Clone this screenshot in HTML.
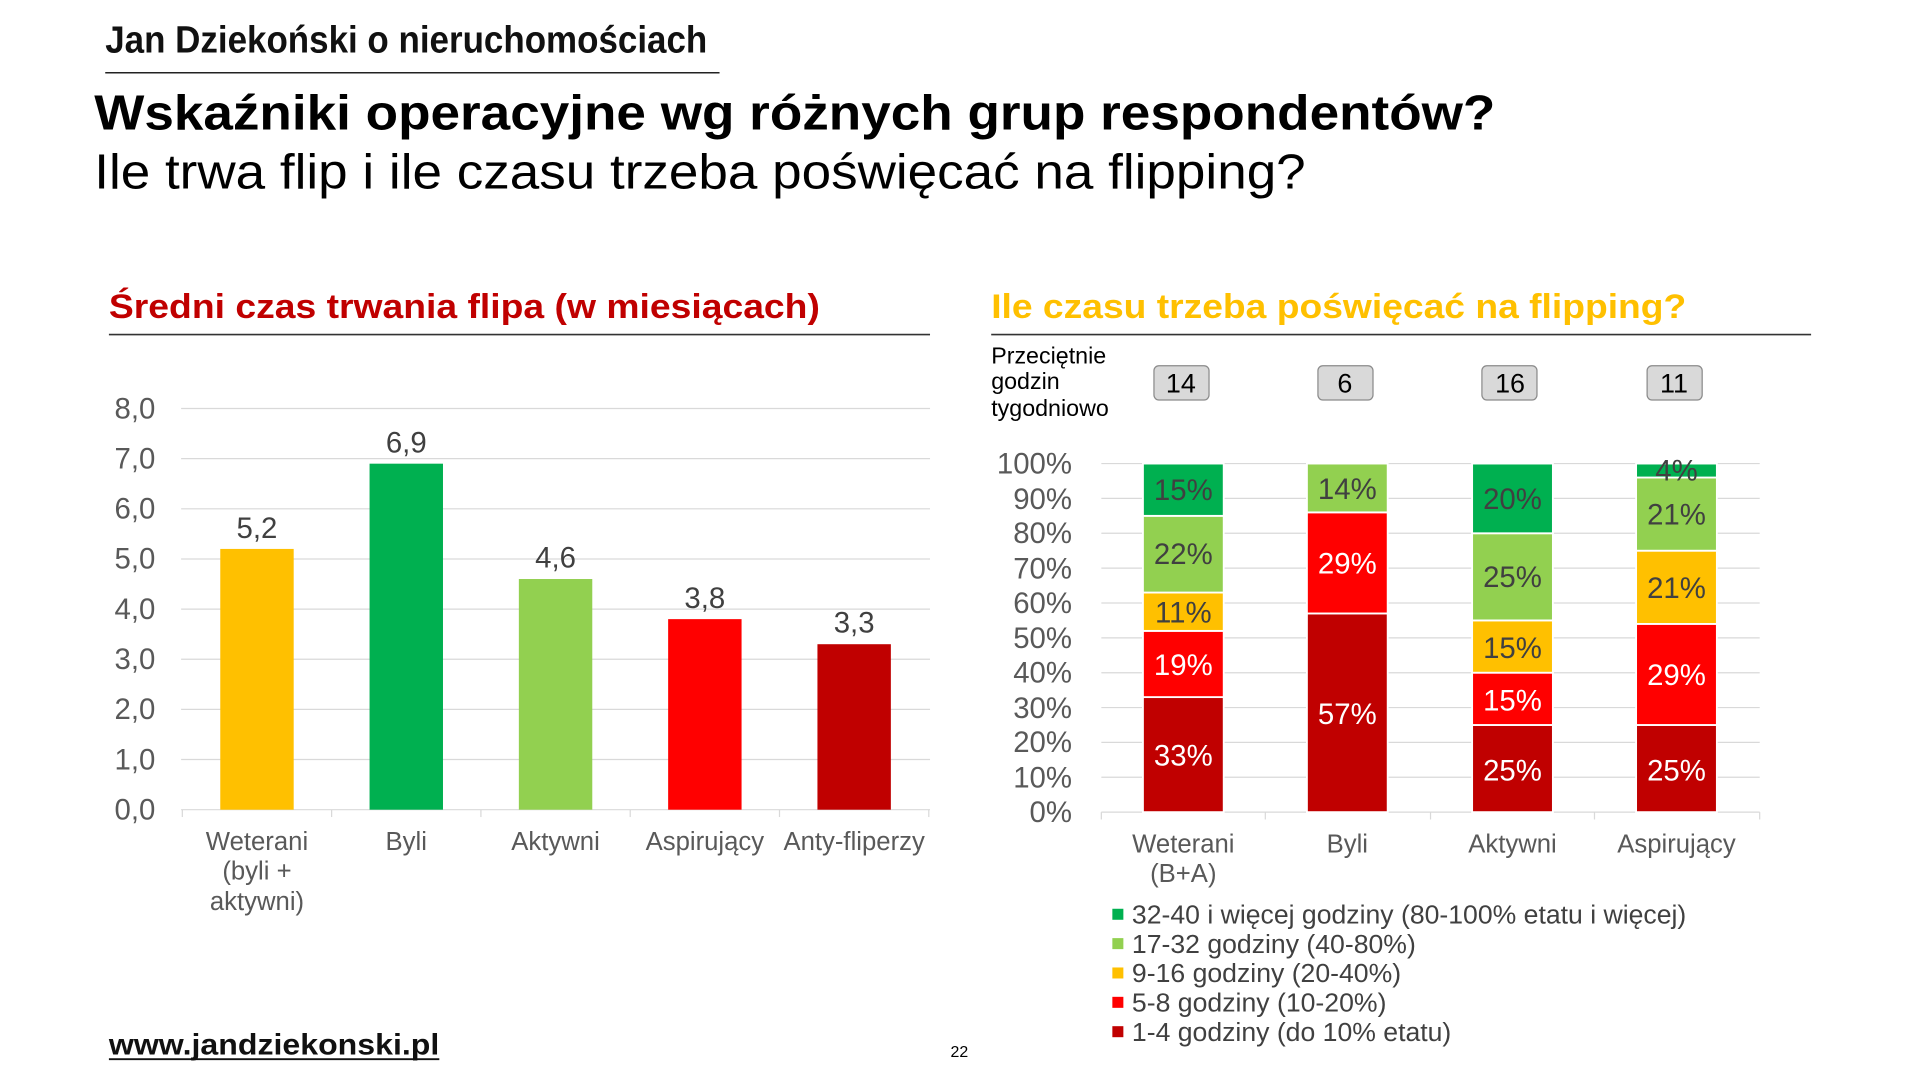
<!DOCTYPE html>
<html><head><meta charset="utf-8"><style>
html,body{margin:0;padding:0;background:#fff;}
svg{display:block;font-family:"Liberation Sans",Arial,sans-serif;}
</style></head><body>
<svg width="1920" height="1080" viewBox="0 0 1569 883" preserveAspectRatio="none" xmlns="http://www.w3.org/2000/svg">
<rect width="1569" height="883" fill="#fff"/>
<!-- header -->
<text x="86" y="43" font-size="31" font-weight="bold" fill="#111" textLength="492" lengthAdjust="spacingAndGlyphs">Jan Dziekoński o nieruchomościach</text>
<line x1="86" y1="59.5" x2="588" y2="59.5" stroke="#222" stroke-width="1.2"/>
<text x="77" y="106" font-size="40" font-weight="bold" fill="#000" textLength="1145" lengthAdjust="spacingAndGlyphs">Wskaźniki operacyjne wg różnych grup respondentów?</text>
<text x="77" y="154" font-size="40" fill="#000" textLength="990" lengthAdjust="spacingAndGlyphs">Ile trwa flip i ile czasu trzeba poświęcać na flipping?</text>

<!-- LEFT -->
<text x="89" y="260" font-size="28" font-weight="bold" fill="#C00000" textLength="581" lengthAdjust="spacingAndGlyphs">Średni czas trwania flipa (w miesiącach)</text>
<line x1="89" y1="273.5" x2="760" y2="273.5" stroke="#333" stroke-width="1.3"/>
<g stroke="#d9d9d9" stroke-width="1">
<line x1="148" y1="334" x2="760" y2="334"/><line x1="148" y1="375" x2="760" y2="375"/>
<line x1="148" y1="416" x2="760" y2="416"/><line x1="148" y1="457" x2="760" y2="457"/>
<line x1="148" y1="498" x2="760" y2="498"/><line x1="148" y1="539" x2="760" y2="539"/>
<line x1="148" y1="580" x2="760" y2="580"/><line x1="148" y1="621" x2="760" y2="621"/>
<line x1="148" y1="662" x2="760" y2="662"/>
<line x1="149" y1="662" x2="149" y2="668"/><line x1="271" y1="662" x2="271" y2="668"/>
<line x1="393" y1="662" x2="393" y2="668"/><line x1="515" y1="662" x2="515" y2="668"/>
<line x1="637" y1="662" x2="637" y2="668"/><line x1="759" y1="662" x2="759" y2="668"/>
</g>
<g font-size="24" fill="#595959" text-anchor="end">
<text x="127" y="342">8,0</text><text x="127" y="383">7,0</text><text x="127" y="424">6,0</text>
<text x="127" y="465">5,0</text><text x="127" y="506">4,0</text><text x="127" y="547">3,0</text>
<text x="127" y="588">2,0</text><text x="127" y="629">1,0</text><text x="127" y="670">0,0</text>
</g>
<rect x="180" y="448.8" width="60" height="213.2" fill="#FFC000"/>
<rect x="302" y="379.1" width="60" height="282.9" fill="#00B050"/>
<rect x="424" y="473.4" width="60" height="188.6" fill="#92D050"/>
<rect x="546" y="506.2" width="60" height="155.8" fill="#FF0000"/>
<rect x="668" y="526.7" width="60" height="135.3" fill="#C00000"/>
<g font-size="24" fill="#404040" text-anchor="middle">
<text x="210" y="440">5,2</text><text x="332" y="370">6,9</text><text x="454" y="464">4,6</text>
<text x="576" y="497">3,8</text><text x="698" y="517">3,3</text>
</g>
<g font-size="21" fill="#595959" text-anchor="middle">
<text x="210" y="695">Weterani</text><text x="210" y="719">(byli +</text><text x="210" y="744">aktywni)</text>
<text x="332" y="695">Byli</text><text x="454" y="695">Aktywni</text>
<text x="576" y="695">Aspirujący</text><text x="698" y="695">Anty-fliperzy</text>
</g>

<!-- RIGHT -->
<text x="810" y="260" font-size="28" font-weight="bold" fill="#FFC000" textLength="568" lengthAdjust="spacingAndGlyphs">Ile czasu trzeba poświęcać na flipping?</text>
<line x1="810" y1="273.5" x2="1480" y2="273.5" stroke="#333" stroke-width="1.3"/>
<g font-size="19" fill="#000">
<text x="810" y="297">Przeciętnie</text><text x="810" y="318">godzin</text><text x="810" y="340">tygodniowo</text>
</g>
<g fill="#d9d9d9" stroke="#8a8a8a" stroke-width="1">
<rect x="943" y="299" width="45" height="28" rx="4"/>
<rect x="1077" y="299" width="45" height="28" rx="4"/>
<rect x="1211" y="299" width="45" height="28" rx="4"/>
<rect x="1346" y="299" width="45" height="28" rx="4"/>
</g>
<g font-size="22" fill="#000" text-anchor="middle">
<text x="965" y="321">14</text><text x="1099" y="321">6</text><text x="1234" y="321">16</text><text x="1368" y="321">11</text>
</g>
<g stroke="#d9d9d9" stroke-width="1">
<line x1="900" y1="379" x2="1438" y2="379"/><line x1="900" y1="407.5" x2="1438" y2="407.5"/>
<line x1="900" y1="436" x2="1438" y2="436"/><line x1="900" y1="464.5" x2="1438" y2="464.5"/>
<line x1="900" y1="493" x2="1438" y2="493"/><line x1="900" y1="521.5" x2="1438" y2="521.5"/>
<line x1="900" y1="550" x2="1438" y2="550"/><line x1="900" y1="578.5" x2="1438" y2="578.5"/>
<line x1="900" y1="607" x2="1438" y2="607"/><line x1="900" y1="635.5" x2="1438" y2="635.5"/>
<line x1="900" y1="664" x2="1438" y2="664"/>
<line x1="900" y1="664" x2="900" y2="670"/><line x1="1034" y1="664" x2="1034" y2="670"/>
<line x1="1169" y1="664" x2="1169" y2="670"/><line x1="1303" y1="664" x2="1303" y2="670"/>
<line x1="1438" y1="664" x2="1438" y2="670"/>
</g>
<g font-size="24" fill="#595959" text-anchor="end">
<text x="876" y="387">100%</text><text x="876" y="416">90%</text><text x="876" y="444">80%</text>
<text x="876" y="473">70%</text><text x="876" y="501">60%</text><text x="876" y="530">50%</text>
<text x="876" y="558">40%</text><text x="876" y="587">30%</text><text x="876" y="615">20%</text>
<text x="876" y="644">10%</text><text x="876" y="672">0%</text>
</g>
<g stroke="#fff" stroke-width="1.5">
<rect x="934" y="569.95" width="66" height="94.05" fill="#C00000"/>
<rect x="934" y="515.8" width="66" height="54.15" fill="#FF0000"/>
<rect x="934" y="484.45" width="66" height="31.35" fill="#FFC000"/>
<rect x="934" y="421.75" width="66" height="62.7" fill="#92D050"/>
<rect x="934" y="379" width="66" height="42.75" fill="#00B050"/>
<rect x="1068" y="501.55" width="66" height="162.45" fill="#C00000"/>
<rect x="1068" y="418.9" width="66" height="82.65" fill="#FF0000"/>
<rect x="1068" y="379" width="66" height="39.9" fill="#92D050"/>
<rect x="1203" y="592.75" width="66" height="71.25" fill="#C00000"/>
<rect x="1203" y="550" width="66" height="42.75" fill="#FF0000"/>
<rect x="1203" y="507.25" width="66" height="42.75" fill="#FFC000"/>
<rect x="1203" y="436" width="66" height="71.25" fill="#92D050"/>
<rect x="1203" y="379" width="66" height="57" fill="#00B050"/>
<rect x="1337" y="592.75" width="66" height="71.25" fill="#C00000"/>
<rect x="1337" y="510.1" width="66" height="82.65" fill="#FF0000"/>
<rect x="1337" y="450.25" width="66" height="59.85" fill="#FFC000"/>
<rect x="1337" y="390.4" width="66" height="59.85" fill="#92D050"/>
<rect x="1337" y="379" width="66" height="11.4" fill="#00B050"/>
</g>
<g font-size="24" text-anchor="middle">
<text x="967" y="409" fill="#404040">15%</text>
<text x="967" y="461" fill="#404040">22%</text>
<text x="967" y="509" fill="#404040">11%</text>
<text x="967" y="552" fill="#fff">19%</text>
<text x="967" y="626" fill="#fff">33%</text>
<text x="1101" y="408" fill="#404040">14%</text>
<text x="1101" y="469" fill="#fff">29%</text>
<text x="1101" y="592" fill="#fff">57%</text>
<text x="1236" y="416" fill="#404040">20%</text>
<text x="1236" y="480" fill="#404040">25%</text>
<text x="1236" y="538" fill="#404040">15%</text>
<text x="1236" y="581" fill="#fff">15%</text>
<text x="1236" y="638" fill="#fff">25%</text>
<text x="1370" y="393" fill="#404040">4%</text>
<text x="1370" y="429" fill="#404040">21%</text>
<text x="1370" y="489" fill="#404040">21%</text>
<text x="1370" y="560" fill="#fff">29%</text>
<text x="1370" y="638" fill="#fff">25%</text>
</g>
<g font-size="21" fill="#595959" text-anchor="middle">
<text x="967" y="697">Weterani</text><text x="967" y="721">(B+A)</text>
<text x="1101" y="697">Byli</text><text x="1236" y="697">Aktywni</text><text x="1370" y="697">Aspirujący</text>
</g>
<rect x="909" y="743" width="9" height="9" fill="#00B050"/>
<rect x="909" y="767" width="9" height="9" fill="#92D050"/>
<rect x="909" y="791" width="9" height="9" fill="#FFC000"/>
<rect x="909" y="815" width="9" height="9" fill="#FF0000"/>
<rect x="909" y="839" width="9" height="9" fill="#C00000"/>
<g font-size="21" fill="#404040">
<text x="925" y="755" textLength="453" lengthAdjust="spacingAndGlyphs">32-40 i więcej godziny (80-100% etatu i więcej)</text>
<text x="925" y="779" textLength="232" lengthAdjust="spacingAndGlyphs">17-32 godziny (40-80%)</text>
<text x="925" y="803" textLength="220" lengthAdjust="spacingAndGlyphs">9-16 godziny (20-40%)</text>
<text x="925" y="827" textLength="208" lengthAdjust="spacingAndGlyphs">5-8 godziny (10-20%)</text>
<text x="925" y="851" textLength="261" lengthAdjust="spacingAndGlyphs">1-4 godziny (do 10% etatu)</text>
</g>

<!-- footer -->
<text x="89" y="862" font-size="24" font-weight="bold" fill="#111" textLength="270" lengthAdjust="spacingAndGlyphs">www.jandziekonski.pl</text>
<line x1="89" y1="866" x2="359" y2="866" stroke="#111" stroke-width="1.5"/>
<text x="784" y="864" font-size="13" fill="#000" text-anchor="middle">22</text>
</svg>
</body></html>
